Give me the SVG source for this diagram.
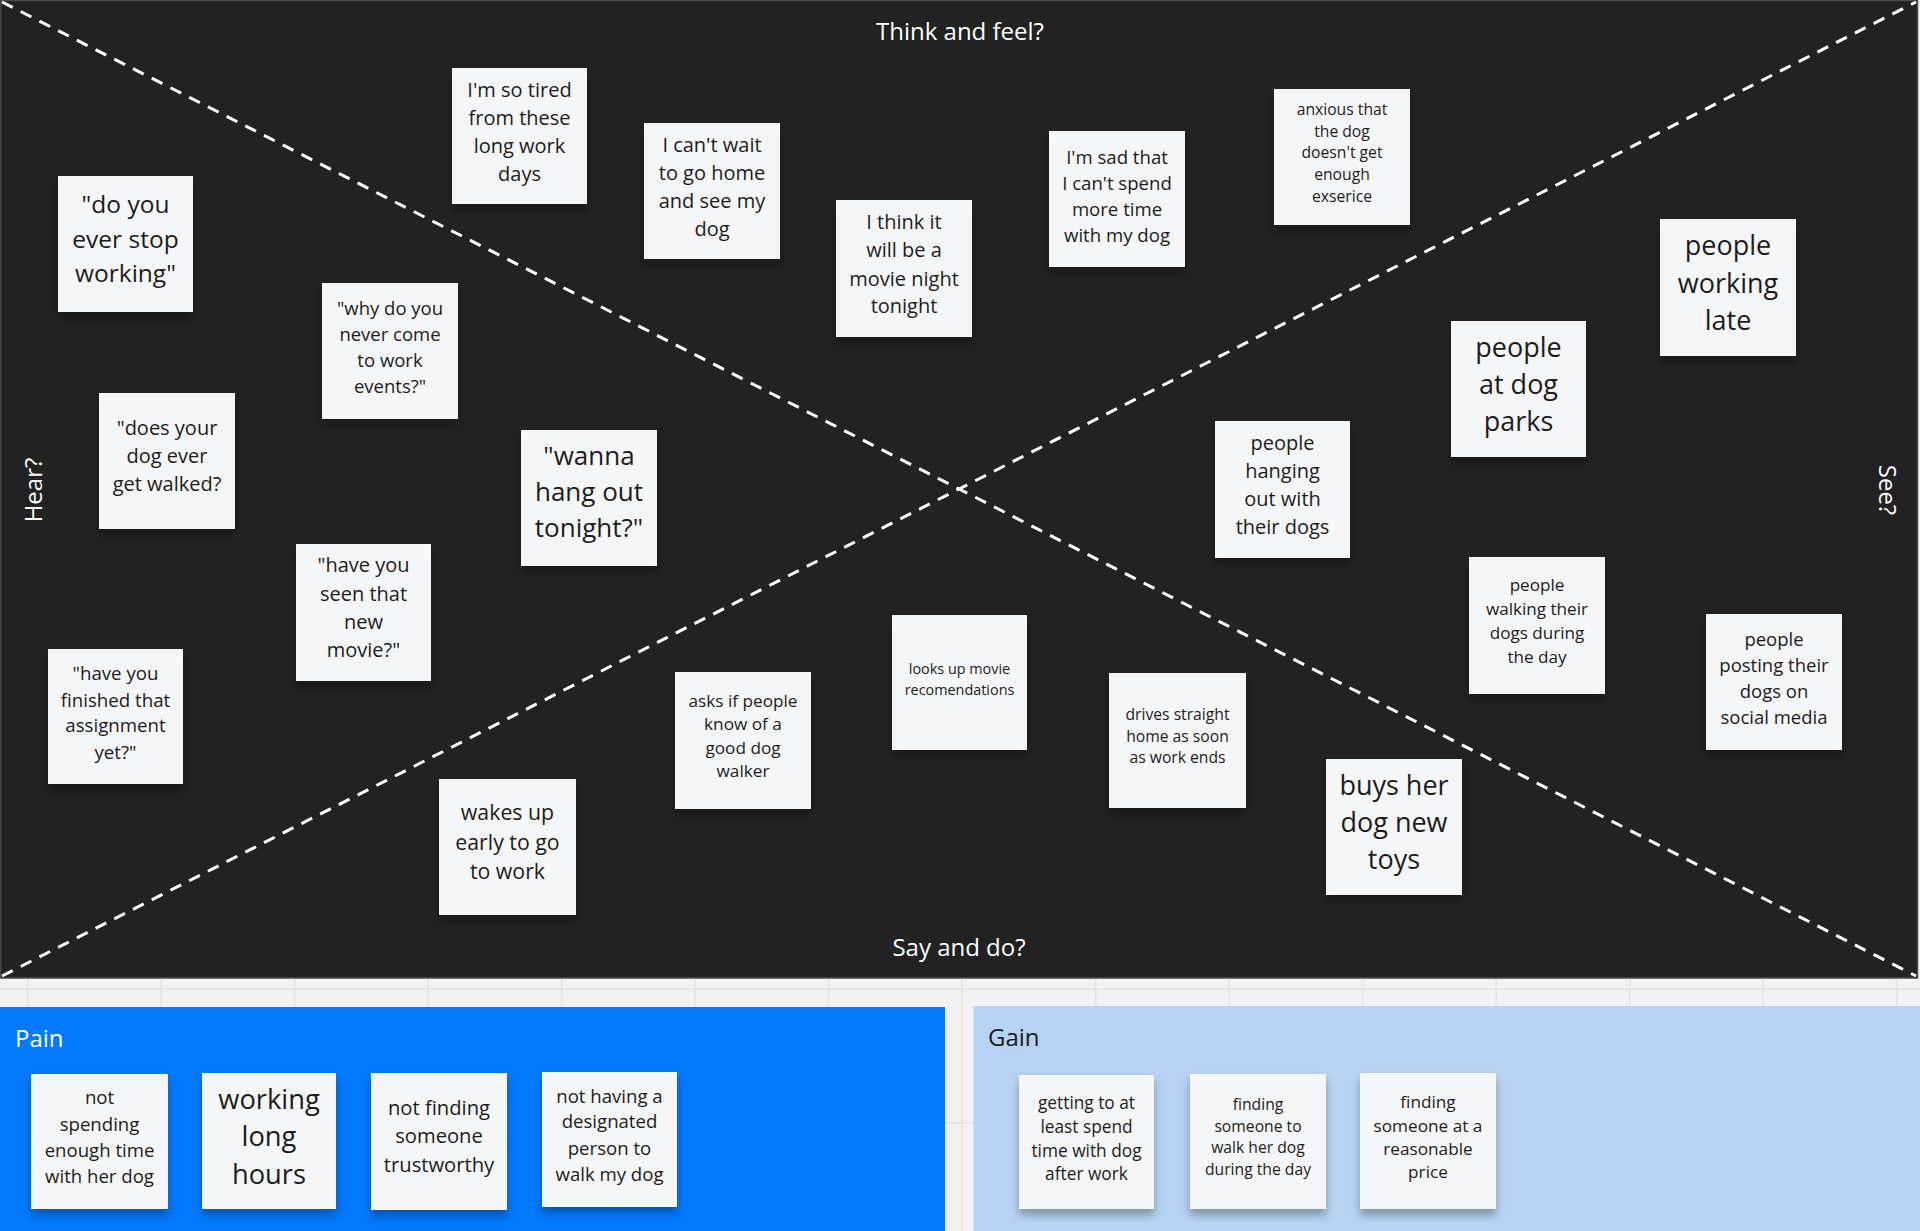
<svg xmlns="http://www.w3.org/2000/svg" width="1920" height="1231" viewBox="0 0 1920 1231">
<defs>
<filter id="sh" x="-20%" y="-20%" width="140%" height="150%">
<feDropShadow dx="0" dy="6" stdDeviation="4" flood-color="#000" flood-opacity="0.3"/>
</filter>
</defs>
<style>
.note{fill:#f5f6f8;filter:url(#sh)}
.nt{font-family:"Open Sans","Liberation Sans",sans-serif;fill:#1c1c1c;text-anchor:middle}
.hd{font-family:"Open Sans","Liberation Sans",sans-serif;font-size:24px;fill:#ffffff;text-anchor:middle}
.grid{stroke:#e3e3e3;stroke-width:1.5}
.diag{stroke:#ffffff;stroke-width:3;stroke-dasharray:12 9;fill:none}
</style>
<rect x="0" y="0" width="1920" height="1231" fill="#f2f2f2"/>
<g id="grid">
<line class="grid" x1="27.6" y1="978" x2="27.6" y2="1231"/>
<line class="grid" x1="161.1" y1="978" x2="161.1" y2="1231"/>
<line class="grid" x1="294.6" y1="978" x2="294.6" y2="1231"/>
<line class="grid" x1="428.1" y1="978" x2="428.1" y2="1231"/>
<line class="grid" x1="561.6" y1="978" x2="561.6" y2="1231"/>
<line class="grid" x1="695.1" y1="978" x2="695.1" y2="1231"/>
<line class="grid" x1="828.6" y1="978" x2="828.6" y2="1231"/>
<line class="grid" x1="962.1" y1="978" x2="962.1" y2="1231"/>
<line class="grid" x1="1095.6" y1="978" x2="1095.6" y2="1231"/>
<line class="grid" x1="1229.1" y1="978" x2="1229.1" y2="1231"/>
<line class="grid" x1="1362.6" y1="978" x2="1362.6" y2="1231"/>
<line class="grid" x1="1496.1" y1="978" x2="1496.1" y2="1231"/>
<line class="grid" x1="1629.6" y1="978" x2="1629.6" y2="1231"/>
<line class="grid" x1="1763.1" y1="978" x2="1763.1" y2="1231"/>
<line class="grid" x1="1896.6" y1="978" x2="1896.6" y2="1231"/>
<line class="grid" x1="0" y1="989" x2="1920" y2="989"/>
<line class="grid" x1="0" y1="1123" x2="1920" y2="1123"/>
</g>
<g id="board">
<rect x="0.5" y="0.5" width="1917" height="977.5" fill="#222222" stroke="#4a4a4a" stroke-width="1.5"/>
</g>
<g id="connectors">
<line class="diag" x1="2" y1="2" x2="1916" y2="976"/>
<line class="diag" x1="2" y1="976" x2="1916" y2="2"/>
</g>
<g id="labels">
<text class="hd" x="960" y="40">Think and feel?</text>
<text class="hd" x="959" y="956">Say and do?</text>
<text class="hd" x="42" y="490" transform="rotate(-90 42 490)">Hear?</text>
<text class="hd" x="1879" y="490" transform="rotate(90 1879 490)">See?</text>
</g>
<g id="pain-panel">
<rect x="0" y="1007" width="945" height="224" fill="#0279fe"/>
<text x="15" y="1047" font-family="Open Sans, Liberation Sans, sans-serif" font-size="24" fill="#ffffff">Pain</text>
</g>
<g id="gain-panel">
<rect x="973.5" y="1006" width="946.5" height="225" fill="#b8d2f3"/>
<text x="988" y="1046" font-family="Open Sans, Liberation Sans, sans-serif" font-size="24" fill="#1c1c1c">Gain</text>
</g>

<g id="n-tired"><rect class="note" x="452" y="68" width="135" height="136"/>
<text class="nt" font-size="20"><tspan x="519.5" y="96.7">I'm so tired</tspan><tspan x="519.5" y="125">from these</tspan><tspan x="519.5" y="153">long work</tspan><tspan x="519.5" y="181">days</tspan></text></g>

<g id="n-cantwait"><rect class="note" x="644" y="123" width="136" height="136"/>
<text class="nt" font-size="20"><tspan x="712" y="151.7">I can't wait</tspan><tspan x="712" y="180">to go home</tspan><tspan x="712" y="208">and see my</tspan><tspan x="712" y="236">dog</tspan></text></g>

<g id="n-movienight"><rect class="note" x="836" y="200" width="136" height="137"/>
<text class="nt" font-size="20"><tspan x="904" y="229">I think it</tspan><tspan x="904" y="257">will be a</tspan><tspan x="904" y="285.7">movie night</tspan><tspan x="904" y="313">tonight</tspan></text></g>

<g id="n-sad"><rect class="note" x="1049" y="131" width="136" height="136"/>
<text class="nt" font-size="18.6"><tspan x="1117" y="163.5">I'm sad that</tspan><tspan x="1117" y="189.5">I can't spend</tspan><tspan x="1117" y="215.5">more time</tspan><tspan x="1117" y="241.5">with my dog</tspan></text></g>

<g id="n-anxious"><rect class="note" x="1274" y="89" width="136" height="136"/>
<text class="nt" font-size="15.7"><tspan x="1342" y="115">anxious that</tspan><tspan x="1342" y="136.7">the dog</tspan><tspan x="1342" y="158.3">doesn't get</tspan><tspan x="1342" y="180">enough</tspan><tspan x="1342" y="201.7">exserice</tspan></text></g>

<g id="n-stopworking"><rect class="note" x="58" y="176" width="135" height="136"/>
<text class="nt" font-size="24.5"><tspan x="125.5" y="213">"do you</tspan><tspan x="125.5" y="247.5">ever stop</tspan><tspan x="125.5" y="281.7">working"</tspan></text></g>

<g id="n-workevents"><rect class="note" x="322" y="283" width="136" height="136"/>
<text class="nt" font-size="18.5"><tspan x="390" y="315">"why do you</tspan><tspan x="390" y="340.7">never come</tspan><tspan x="390" y="366.7">to work</tspan><tspan x="390" y="392.7">events?"</tspan></text></g>

<g id="n-dogwalked"><rect class="note" x="99" y="393" width="136" height="136"/>
<text class="nt" font-size="20"><tspan x="167" y="435">"does your</tspan><tspan x="167" y="463.3">dog ever</tspan><tspan x="167" y="491.3">get walked?</tspan></text></g>

<g id="n-hangout"><rect class="note" x="521" y="430" width="136" height="136"/>
<text class="nt" font-size="26"><tspan x="589" y="465">"wanna</tspan><tspan x="589" y="501">hang out</tspan><tspan x="589" y="537">tonight?"</tspan></text></g>

<g id="n-newmovie"><rect class="note" x="296" y="544" width="135" height="137"/>
<text class="nt" font-size="20"><tspan x="363.5" y="572.2">"have you</tspan><tspan x="363.5" y="600.5">seen that</tspan><tspan x="363.5" y="629">new</tspan><tspan x="363.5" y="656.6">movie?"</tspan></text></g>

<g id="n-assignment"><rect class="note" x="48" y="649" width="135" height="135"/>
<text class="nt" font-size="18.7"><tspan x="115.5" y="680">"have you</tspan><tspan x="115.5" y="706.5">finished that</tspan><tspan x="115.5" y="732.4">assignment</tspan><tspan x="115.5" y="759">yet?"</tspan></text></g>

<g id="n-wakesup"><rect class="note" x="439" y="779" width="137" height="136"/>
<text class="nt" font-size="21.3"><tspan x="507.5" y="820">wakes up</tspan><tspan x="507.5" y="849.5">early to go</tspan><tspan x="507.5" y="878.7">to work</tspan></text></g>

<g id="n-dogwalker"><rect class="note" x="675" y="672" width="136" height="137"/>
<text class="nt" font-size="17.2"><tspan x="743" y="706.5">asks if people</tspan><tspan x="743" y="730">know of a</tspan><tspan x="743" y="753.7">good dog</tspan><tspan x="743" y="777">walker</tspan></text></g>

<g id="n-lookmovie"><rect class="note" x="892" y="615" width="135" height="135"/>
<text class="nt" font-size="14.4"><tspan x="959.5" y="673.8">looks up movie</tspan><tspan x="959.5" y="694.5">recomendations</tspan></text></g>

<g id="n-driveshome"><rect class="note" x="1109" y="673" width="137" height="135"/>
<text class="nt" font-size="15.7"><tspan x="1177.5" y="720.3">drives straight</tspan><tspan x="1177.5" y="742">home as soon</tspan><tspan x="1177.5" y="763.4">as work ends</tspan></text></g>

<g id="n-toys"><rect class="note" x="1326" y="759" width="136" height="136"/>
<text class="nt" font-size="27"><tspan x="1394" y="794.5">buys her</tspan><tspan x="1394" y="831.5">dog new</tspan><tspan x="1394" y="868.5">toys</tspan></text></g>

<g id="n-hanging"><rect class="note" x="1215" y="421" width="135" height="137"/>
<text class="nt" font-size="20"><tspan x="1282.5" y="450">people</tspan><tspan x="1282.5" y="478">hanging</tspan><tspan x="1282.5" y="506">out with</tspan><tspan x="1282.5" y="533.5">their dogs</tspan></text></g>

<g id="n-dogparks"><rect class="note" x="1451" y="321" width="135" height="136"/>
<text class="nt" font-size="27"><tspan x="1518.5" y="357">people</tspan><tspan x="1518.5" y="394">at dog</tspan><tspan x="1518.5" y="431">parks</tspan></text></g>

<g id="n-workinglate"><rect class="note" x="1660" y="219" width="136" height="137"/>
<text class="nt" font-size="27"><tspan x="1728" y="255">people</tspan><tspan x="1728" y="292.5">working</tspan><tspan x="1728" y="330">late</tspan></text></g>

<g id="n-walking"><rect class="note" x="1469" y="557" width="136" height="137"/>
<text class="nt" font-size="17.1"><tspan x="1537" y="591.2">people</tspan><tspan x="1537" y="615.3">walking their</tspan><tspan x="1537" y="639.4">dogs during</tspan><tspan x="1537" y="662.8">the day</tspan></text></g>

<g id="n-social"><rect class="note" x="1706" y="614" width="136" height="136"/>
<text class="nt" font-size="18.5"><tspan x="1774" y="646.3">people</tspan><tspan x="1774" y="672.1">posting their</tspan><tspan x="1774" y="698">dogs on</tspan><tspan x="1774" y="723.8">social media</tspan></text></g>

<g id="p-notspending"><rect class="note" x="31" y="1074" width="137" height="135"/>
<text class="nt" font-size="18.6"><tspan x="99.5" y="1104">not</tspan><tspan x="99.5" y="1130.7">spending</tspan><tspan x="99.5" y="1156.7">enough time</tspan><tspan x="99.5" y="1182.7">with her dog</tspan></text></g>

<g id="p-longhours"><rect class="note" x="202" y="1073" width="134" height="136"/>
<text class="nt" font-size="27.3"><tspan x="269" y="1108.5">working</tspan><tspan x="269" y="1146">long</tspan><tspan x="269" y="1183.5">hours</tspan></text></g>

<g id="p-trustworthy"><rect class="note" x="371" y="1073" width="136" height="137"/>
<text class="nt" font-size="20.2"><tspan x="439" y="1115">not finding</tspan><tspan x="439" y="1143.3">someone</tspan><tspan x="439" y="1171.6">trustworthy</tspan></text></g>

<g id="p-designated"><rect class="note" x="542" y="1072" width="135" height="135"/>
<text class="nt" font-size="18.6"><tspan x="609.5" y="1102.7">not having a</tspan><tspan x="609.5" y="1128.3">designated</tspan><tspan x="609.5" y="1155">person to</tspan><tspan x="609.5" y="1180.7">walk my dog</tspan></text></g>

<g id="g-timewithdog"><rect class="note" x="1019" y="1075" width="135" height="134"/>
<text class="nt" font-size="17.3"><tspan x="1086.5" y="1109.3">getting to at</tspan><tspan x="1086.5" y="1132.7">least spend</tspan><tspan x="1086.5" y="1156.7">time with dog</tspan><tspan x="1086.5" y="1180">after work</tspan></text></g>

<g id="g-walker"><rect class="note" x="1190" y="1074" width="136" height="135"/>
<text class="nt" font-size="15.7"><tspan x="1258" y="1110">finding</tspan><tspan x="1258" y="1131.7">someone to</tspan><tspan x="1258" y="1153.3">walk her dog</tspan><tspan x="1258" y="1175">during the day</tspan></text></g>

<g id="g-price"><rect class="note" x="1360" y="1073" width="136" height="136"/>
<text class="nt" font-size="17.2"><tspan x="1428" y="1108.3">finding</tspan><tspan x="1428" y="1131.7">someone at a</tspan><tspan x="1428" y="1155">reasonable</tspan><tspan x="1428" y="1178.3">price</tspan></text></g>
</svg>
